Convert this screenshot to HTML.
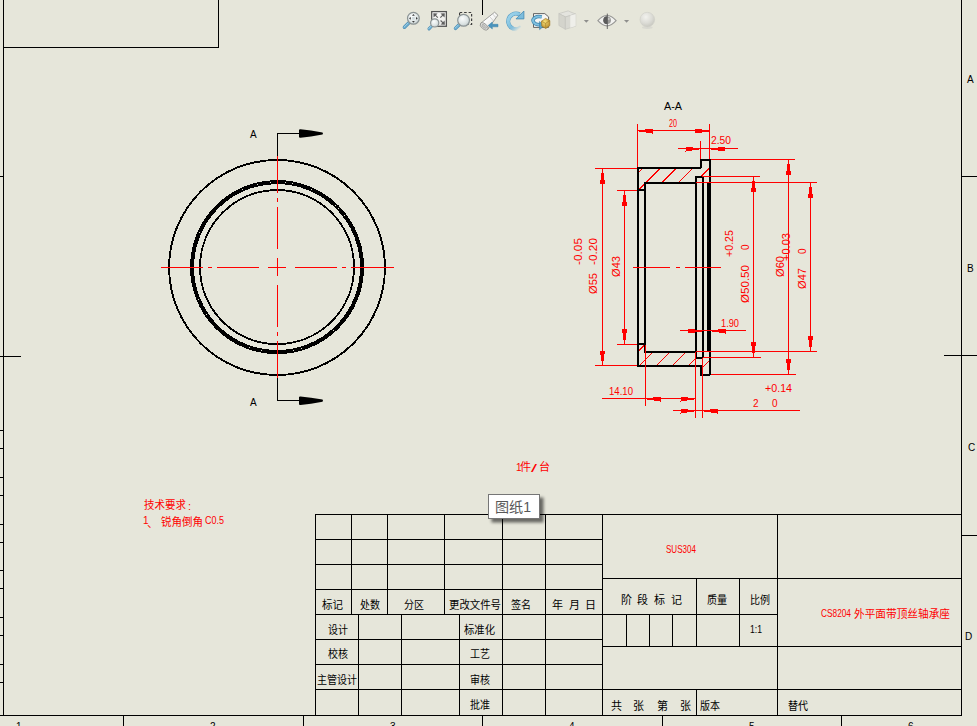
<!DOCTYPE html>
<html><head><meta charset="utf-8"><title>drawing</title>
<style>
html,body{margin:0;padding:0;width:977px;height:726px;overflow:hidden;background:#e6e6da;font-family:"Liberation Sans",sans-serif;}
svg{position:absolute;left:0;top:0;display:block}
</style></head><body>
<svg width="977" height="726" viewBox="0 0 977 726">
<g shape-rendering="crispEdges">
<rect x="3" y="0" width="1" height="716" fill="#000"/>
<rect x="0" y="715" width="962" height="1" fill="#000"/>
<rect x="961" y="0" width="1" height="716" fill="#000"/>
<rect x="3" y="47" width="216" height="1" fill="#000"/>
<rect x="218" y="0" width="1" height="48" fill="#000"/>
<rect x="0" y="176" width="3" height="1" fill="#000"/>
<rect x="0" y="430" width="3" height="1" fill="#000"/>
<rect x="0" y="448" width="3" height="1" fill="#000"/>
<rect x="0" y="477" width="3" height="1" fill="#000"/>
<rect x="0" y="495" width="3" height="1" fill="#000"/>
<rect x="0" y="524" width="3" height="1" fill="#000"/>
<rect x="0" y="542" width="3" height="1" fill="#000"/>
<rect x="0" y="570" width="3" height="1" fill="#000"/>
<rect x="0" y="588" width="3" height="1" fill="#000"/>
<rect x="0" y="617" width="3" height="1" fill="#000"/>
<rect x="0" y="635" width="3" height="1" fill="#000"/>
<rect x="0" y="664" width="3" height="1" fill="#000"/>
<rect x="0" y="682" width="3" height="1" fill="#000"/>
<rect x="0" y="356" width="21" height="1" fill="#000"/>
<rect x="123" y="716" width="1" height="10" fill="#000"/>
<rect x="303" y="716" width="1" height="10" fill="#000"/>
<rect x="482" y="716" width="1" height="10" fill="#000"/>
<rect x="662" y="716" width="1" height="10" fill="#000"/>
<rect x="841" y="716" width="1" height="10" fill="#000"/>
<rect x="482" y="0" width="1" height="15" fill="#000"/>
<rect x="962" y="176" width="15" height="1" fill="#000"/>
<rect x="944" y="355" width="33" height="1" fill="#000"/>
<rect x="962" y="535" width="15" height="1" fill="#000"/>
</g>
<g shape-rendering="crispEdges">
<rect x="315" y="514" width="647" height="1" fill="#000"/>
<rect x="315" y="514" width="1" height="202" fill="#000"/>
<rect x="315" y="539" width="288" height="1" fill="#000"/>
<rect x="315" y="564" width="288" height="1" fill="#000"/>
<rect x="315" y="589" width="288" height="1" fill="#000"/>
<rect x="315" y="614" width="288" height="1" fill="#000"/>
<rect x="315" y="639" width="288" height="1" fill="#000"/>
<rect x="315" y="664" width="288" height="1" fill="#000"/>
<rect x="315" y="689" width="288" height="1" fill="#000"/>
<rect x="351" y="514" width="1" height="100" fill="#000"/>
<rect x="387" y="514" width="1" height="100" fill="#000"/>
<rect x="444" y="514" width="1" height="100" fill="#000"/>
<rect x="358" y="614" width="1" height="102" fill="#000"/>
<rect x="401" y="614" width="1" height="102" fill="#000"/>
<rect x="459" y="614" width="1" height="102" fill="#000"/>
<rect x="502" y="514" width="1" height="202" fill="#000"/>
<rect x="545" y="514" width="1" height="202" fill="#000"/>
<rect x="602" y="514" width="1" height="202" fill="#000"/>
<rect x="602" y="578" width="360" height="1" fill="#000"/>
<rect x="602" y="614" width="176" height="1" fill="#000"/>
<rect x="602" y="646" width="360" height="1" fill="#000"/>
<rect x="602" y="689" width="360" height="1" fill="#000"/>
<rect x="777" y="514" width="1" height="202" fill="#000"/>
<rect x="696" y="578" width="1" height="69" fill="#000"/>
<rect x="739" y="578" width="1" height="69" fill="#000"/>
<rect x="626" y="614" width="1" height="33" fill="#000"/>
<rect x="649" y="614" width="1" height="33" fill="#000"/>
<rect x="672" y="614" width="1" height="33" fill="#000"/>
<rect x="696" y="689" width="1" height="27" fill="#000"/>
</g>
<g fill="none" stroke="#000" shape-rendering="crispEdges">
<ellipse cx="277.05" cy="267.5" rx="107.9" ry="107.5" stroke-width="1.9"/>
<ellipse cx="277.05" cy="267.1" rx="86.0" ry="86.05" stroke-width="2"/>
<ellipse cx="277.05" cy="267.1" rx="84.0" ry="84.0" stroke-width="2"/>
<ellipse cx="277.05" cy="267.1" rx="77.0" ry="77.0" stroke-width="1.9"/>
</g>
<g shape-rendering="crispEdges">
<rect x="161" y="267" width="42" height="1" fill="#ff0000"/>
<rect x="208" y="267" width="4" height="1" fill="#ff0000"/>
<rect x="217" y="267" width="42" height="1" fill="#ff0000"/>
<rect x="268" y="267" width="18" height="1" fill="#ff0000"/>
<rect x="295" y="267" width="42" height="1" fill="#ff0000"/>
<rect x="342" y="267" width="4" height="1" fill="#ff0000"/>
<rect x="351" y="267" width="43" height="1" fill="#ff0000"/>
<rect x="277" y="156" width="1" height="37" fill="#ff0000"/>
<rect x="277" y="198" width="1" height="4" fill="#ff0000"/>
<rect x="277" y="207" width="1" height="42" fill="#ff0000"/>
<rect x="277" y="258" width="1" height="18" fill="#ff0000"/>
<rect x="277" y="285" width="1" height="42" fill="#ff0000"/>
<rect x="277" y="332" width="1" height="4" fill="#ff0000"/>
<rect x="277" y="341" width="1" height="37" fill="#ff0000"/>
<rect x="277" y="133" width="1" height="23" fill="#000"/>
<rect x="277" y="133" width="23" height="1" fill="#000"/>
<rect x="277" y="378" width="1" height="23" fill="#000"/>
<rect x="277" y="400" width="23" height="1" fill="#000"/>
</g>
<path d="M299,129.9 Q299,129.1 300.5,129.2 L311,130.5 L322.5,132.4 Q323.5,133.5 322.5,134.6 L311,136.5 L300.5,137.8 Q299,137.9 299,137.1 Z" fill="#000"/>
<path d="M299,397.09999999999997 Q299,396.3 300.5,396.4 L311,397.7 L322.5,399.59999999999997 Q323.5,400.7 322.5,401.8 L311,403.7 L300.5,405.0 Q299,405.09999999999997 299,404.3 Z" fill="#000"/>
<g shape-rendering="crispEdges">
<clipPath id="ht"><polygon points="638,190 638,168 701,168 701,160 710,160 710,183 703,183 703,177 696,177 696,183 645,183 645,190"/></clipPath>
<clipPath id="hb"><polygon points="638,344 645,344 645,352 696,352 696,358 703,358 703,352 710,352 710,375 701,375 701,366 638,366"/></clipPath>
</g>
<g stroke="#ff0000" stroke-width="1" clip-path="url(#ht)" shape-rendering="crispEdges">
<line x1="610.9" y1="200" x2="660.9" y2="150"/>
<line x1="628.3" y1="200" x2="678.3" y2="150"/>
<line x1="644.4" y1="200" x2="694.4" y2="150"/>
<line x1="661.2" y1="200" x2="711.2" y2="150"/>
<line x1="677.3" y1="200" x2="727.3" y2="150"/>
</g>
<g stroke="#ff0000" stroke-width="1" clip-path="url(#hb)" shape-rendering="crispEdges">
<line x1="609.7" y1="380" x2="649.7" y2="340"/>
<line x1="625.1" y1="380" x2="665.1" y2="340"/>
<line x1="641.9" y1="380" x2="681.9" y2="340"/>
<line x1="657.8" y1="380" x2="697.8" y2="340"/>
<line x1="674" y1="380" x2="714" y2="340"/>
<line x1="690.2" y1="380" x2="730.2" y2="340"/>
</g>
<g shape-rendering="crispEdges">
<rect x="637" y="167" width="2" height="199" fill="#000"/>
<rect x="644" y="182" width="2" height="170" fill="#000"/>
<rect x="695" y="176" width="2" height="182" fill="#000"/>
<rect x="702" y="176" width="2" height="182" fill="#000"/>
<rect x="709" y="159" width="2" height="216" fill="#000"/>
<rect x="707" y="183" width="2" height="169" fill="#000"/>
<rect x="700" y="159" width="2" height="9" fill="#000"/>
<rect x="700" y="365" width="2" height="10" fill="#000"/>
<rect x="700" y="159" width="10" height="2" fill="#000"/>
<rect x="637" y="167" width="64" height="2" fill="#000"/>
<rect x="695" y="176" width="8" height="2" fill="#000"/>
<rect x="644" y="182" width="52" height="2" fill="#000"/>
<rect x="637" y="189" width="8" height="2" fill="#000"/>
<rect x="637" y="343" width="8" height="2" fill="#000"/>
<rect x="644" y="351" width="52" height="2" fill="#000"/>
<rect x="695" y="357" width="8" height="2" fill="#000"/>
<rect x="637" y="365" width="64" height="2" fill="#000"/>
<rect x="700" y="374" width="10" height="2" fill="#000"/>
<rect x="633" y="267" width="37" height="1" fill="#ff0000"/>
<rect x="676" y="267" width="4" height="1" fill="#ff0000"/>
<rect x="685" y="267" width="36" height="1" fill="#ff0000"/>
<rect x="637" y="124" width="1" height="43" fill="#ff0000"/>
<rect x="709" y="124" width="1" height="35" fill="#ff0000"/>
<rect x="637" y="130" width="73" height="1" fill="#ff0000"/>
<rect x="700" y="141" width="1" height="18" fill="#ff0000"/>
<rect x="678" y="148" width="60" height="1" fill="#ff0000"/>
<rect x="595" y="168" width="42" height="1" fill="#ff0000"/>
<rect x="595" y="365" width="42" height="1" fill="#ff0000"/>
<rect x="602" y="168" width="1" height="198" fill="#ff0000"/>
<rect x="617" y="190" width="20" height="1" fill="#ff0000"/>
<rect x="617" y="344" width="20" height="1" fill="#ff0000"/>
<rect x="624" y="190" width="1" height="155" fill="#ff0000"/>
<rect x="711" y="159" width="84" height="1" fill="#ff0000"/>
<rect x="711" y="374" width="85" height="1" fill="#ff0000"/>
<rect x="788" y="159" width="1" height="216" fill="#ff0000"/>
<rect x="702" y="176" width="58" height="1" fill="#ff0000"/>
<rect x="703" y="357" width="58" height="1" fill="#ff0000"/>
<rect x="753" y="176" width="1" height="182" fill="#ff0000"/>
<rect x="696" y="182" width="121" height="1" fill="#ff0000"/>
<rect x="696" y="351" width="121" height="1" fill="#ff0000"/>
<rect x="810" y="182" width="1" height="170" fill="#ff0000"/>
<rect x="645" y="345" width="1" height="61" fill="#ff0000"/>
<rect x="695" y="352" width="1" height="66" fill="#ff0000"/>
<rect x="702" y="358" width="1" height="60" fill="#ff0000"/>
<rect x="602" y="398" width="94" height="1" fill="#ff0000"/>
<rect x="673" y="410" width="127" height="1" fill="#ff0000"/>
<rect x="680" y="330" width="66" height="1" fill="#ff0000"/>
<polygon points="637.5,130.65 652.5,128.5 652.5,133.5 637.5,131.35" fill="#ff0000"/>
<polygon points="710,130.65 695,128.5 695,133.5 710,131.35" fill="#ff0000"/>
<polygon points="700.5,148.65 685.5,146.5 685.5,151.5 700.5,149.35" fill="#ff0000"/>
<polygon points="710,148.65 725,146.5 725,151.5 710,149.35" fill="#ff0000"/>
<polygon points="602.2,168.5 599.9,184.0 605.1,184.0 602.8,168.5" fill="#ff0000"/>
<polygon points="602.2,366 599.9,350.5 605.1,350.5 602.8,366" fill="#ff0000"/>
<polygon points="624.2,190.5 621.9,206.0 627.1,206.0 624.8,190.5" fill="#ff0000"/>
<polygon points="624.2,344.5 621.9,329.0 627.1,329.0 624.8,344.5" fill="#ff0000"/>
<polygon points="788.2,159.5 785.9,175.0 791.1,175.0 788.8,159.5" fill="#ff0000"/>
<polygon points="788.2,374.5 785.9,359.0 791.1,359.0 788.8,374.5" fill="#ff0000"/>
<polygon points="753.2,176.5 750.9,192.0 756.1,192.0 753.8,176.5" fill="#ff0000"/>
<polygon points="753.2,357.5 750.9,342.0 756.1,342.0 753.8,357.5" fill="#ff0000"/>
<polygon points="810.2,182.5 807.9,198.0 813.1,198.0 810.8,182.5" fill="#ff0000"/>
<polygon points="810.2,351.5 807.9,336.0 813.1,336.0 810.8,351.5" fill="#ff0000"/>
<polygon points="645.5,398.65 660.5,396.5 660.5,401.5 645.5,399.35" fill="#ff0000"/>
<polygon points="695.5,398.65 680.5,396.5 680.5,401.5 695.5,399.35" fill="#ff0000"/>
<polygon points="695.5,410.65 680.5,408.5 680.5,413.5 695.5,411.35" fill="#ff0000"/>
<polygon points="702.5,410.65 717.5,408.5 717.5,413.5 702.5,411.35" fill="#ff0000"/>
<polygon points="703,330.65 688,328.5 688,333.5 703,331.35" fill="#ff0000"/>
<polygon points="710.5,330.65 725.5,328.5 725.5,333.5 710.5,331.35" fill="#ff0000"/>
</g>
<g font-family="&quot;Liberation Sans&quot;, &quot;Noto Sans CJK SC&quot;, sans-serif" font-size="11" fill="#000">
<text x="664" y="110" textLength="18" lengthAdjust="spacingAndGlyphs">A-A</text>
<text x="250" y="138" font-size="10">A</text>
<text x="250" y="406" font-size="10">A</text>
<text x="967" y="83" font-size="10">A</text>
<text x="967" y="272" font-size="10">B</text>
<text x="968" y="451" font-size="10">C</text>
<text x="965" y="640" font-size="10">D</text>
<text x="16" y="730" font-size="10">1</text>
<text x="210" y="730" font-size="10">2</text>
<text x="390" y="730" font-size="10">3</text>
<text x="569" y="730" font-size="10">4</text>
<text x="749" y="730" font-size="10">5</text>
<text x="908" y="730" font-size="10">6</text>
<text x="750" y="633" textLength="12" lengthAdjust="spacingAndGlyphs">1:1</text>
<text x="322" y="609" textLength="21" lengthAdjust="spacingAndGlyphs">标记</text>
<text x="360" y="609" textLength="20" lengthAdjust="spacingAndGlyphs">处数</text>
<text x="404" y="609" textLength="20" lengthAdjust="spacingAndGlyphs">分区</text>
<text x="449" y="609" textLength="52" lengthAdjust="spacingAndGlyphs">更改文件号</text>
<text x="511" y="609" textLength="20" lengthAdjust="spacingAndGlyphs">签名</text>
<text x="552" y="609">年</text>
<text x="569" y="609">月</text>
<text x="585" y="609">日</text>
<text x="328" y="634" textLength="20" lengthAdjust="spacingAndGlyphs">设计</text>
<text x="464" y="634" textLength="31" lengthAdjust="spacingAndGlyphs">标准化</text>
<text x="328" y="658" textLength="20" lengthAdjust="spacingAndGlyphs">校核</text>
<text x="470" y="658" textLength="20" lengthAdjust="spacingAndGlyphs">工艺</text>
<text x="317" y="684" textLength="40" lengthAdjust="spacingAndGlyphs">主管设计</text>
<text x="470" y="684" textLength="20" lengthAdjust="spacingAndGlyphs">审核</text>
<text x="470" y="709" textLength="20" lengthAdjust="spacingAndGlyphs">批准</text>
<text x="621" y="604">阶</text>
<text x="637" y="604">段</text>
<text x="654" y="604">标</text>
<text x="671" y="604">记</text>
<text x="707" y="604" textLength="20" lengthAdjust="spacingAndGlyphs">质量</text>
<text x="750" y="604" textLength="20" lengthAdjust="spacingAndGlyphs">比例</text>
<text x="611" y="710">共</text>
<text x="633" y="710">张</text>
<text x="657" y="710">第</text>
<text x="680" y="710">张</text>
<text x="700" y="710" textLength="20" lengthAdjust="spacingAndGlyphs">版本</text>
<text x="788" y="710" textLength="20" lengthAdjust="spacingAndGlyphs">替代</text>
</g>
<g font-family="&quot;Liberation Sans&quot;, &quot;Noto Sans CJK SC&quot;, sans-serif" font-size="11" fill="#ff0000">
<text x="669" y="127" textLength="8" lengthAdjust="spacingAndGlyphs">20</text>
<text x="711" y="144" textLength="20" lengthAdjust="spacingAndGlyphs">2.50</text>
<text x="721" y="327" textLength="18" lengthAdjust="spacingAndGlyphs">1.90</text>
<text x="609" y="395" textLength="24" lengthAdjust="spacingAndGlyphs">14.10</text>
<text x="765" y="392" textLength="27" lengthAdjust="spacingAndGlyphs">+0.14</text>
<text x="753" y="407" font-size="10">2</text>
<text x="772" y="407" font-size="10">0</text>
<text transform="translate(588,294) rotate(-90)" x="0" y="9" textLength="21" lengthAdjust="spacingAndGlyphs">Ø55</text>
<text transform="translate(573,265) rotate(-90)" x="0" y="9" textLength="27" lengthAdjust="spacingAndGlyphs">-0.05</text>
<text transform="translate(588,265) rotate(-90)" x="0" y="9" textLength="27" lengthAdjust="spacingAndGlyphs">-0.20</text>
<text transform="translate(611,277) rotate(-90)" x="0" y="9" textLength="21" lengthAdjust="spacingAndGlyphs">Ø43</text>
<text transform="translate(740,303) rotate(-90)" x="0" y="9" textLength="38" lengthAdjust="spacingAndGlyphs">Ø50.50</text>
<text transform="translate(724,257) rotate(-90)" x="0" y="9" textLength="27" lengthAdjust="spacingAndGlyphs">+0.25</text>
<text transform="translate(740,249) rotate(-90)" x="-1" y="9" font-size="10">0</text>
<text transform="translate(775,277) rotate(-90)" x="0" y="9" textLength="21" lengthAdjust="spacingAndGlyphs">Ø60</text>
<text transform="translate(781,261) rotate(-90)" x="0" y="9" textLength="28" lengthAdjust="spacingAndGlyphs">+0.03</text>
<text transform="translate(797,253) rotate(-90)" x="-1" y="9" font-size="10">0</text>
<text transform="translate(797,289) rotate(-90)" x="0" y="9" textLength="21" lengthAdjust="spacingAndGlyphs">Ø47</text>
<text x="666" y="553" textLength="30" lengthAdjust="spacingAndGlyphs">SUS304</text>
<text x="821" y="617" textLength="30" lengthAdjust="spacingAndGlyphs">CS8204</text>
<text x="854" y="618" textLength="96" lengthAdjust="spacingAndGlyphs">外平面带顶丝轴承座</text>
<text x="144" y="509" textLength="42" lengthAdjust="spacingAndGlyphs">技术要求</text>
<text x="188" y="510">:</text>
<text x="143" y="524" font-size="10">1</text>
<text x="147" y="527">、</text>
<text x="161" y="526" textLength="42" lengthAdjust="spacingAndGlyphs">锐角倒角</text>
<text x="205" y="524" textLength="19" lengthAdjust="spacingAndGlyphs">C0.5</text>
<text x="516" y="471" font-size="10">1</text>
<text x="520" y="471">件</text>
<text x="531" y="472" textLength="6" lengthAdjust="spacingAndGlyphs">/</text>
<text x="539" y="471">台</text>
</g>
<defs>
<radialGradient id="lens" cx="40%" cy="35%" r="70%"><stop offset="0" stop-color="#fbfdfd"/><stop offset="0.6" stop-color="#dfe6e6"/><stop offset="1" stop-color="#c3cdce"/></radialGradient>
<linearGradient id="hnd" x1="0" y1="0" x2="1" y2="1"><stop offset="0" stop-color="#8cc6e2"/><stop offset="1" stop-color="#3f88b2"/></linearGradient>
<linearGradient id="blu" x1="0" y1="0" x2="0" y2="1"><stop offset="0" stop-color="#9ed2ea"/><stop offset="1" stop-color="#4a92bb"/></linearGradient>
<linearGradient id="arcg" gradientUnits="userSpaceOnUse" x1="506" y1="14" x2="520" y2="30"><stop offset="0" stop-color="#a4d8ee"/><stop offset="0.6" stop-color="#7fc0de"/><stop offset="0.95" stop-color="#b4dcec" stop-opacity="0"/></linearGradient>
<linearGradient id="arcd" gradientUnits="userSpaceOnUse" x1="506" y1="14" x2="520" y2="30"><stop offset="0" stop-color="#5a9fc6"/><stop offset="0.6" stop-color="#4f95bd"/><stop offset="0.95" stop-color="#8fbfd8" stop-opacity="0"/></linearGradient>
<linearGradient id="spy" x1="0" y1="0" x2="1" y2="1"><stop offset="0" stop-color="#c4c4c2"/><stop offset="0.35" stop-color="#ffffff"/><stop offset="0.6" stop-color="#f0f0ee"/><stop offset="1" stop-color="#a2a2a0"/></linearGradient>
<radialGradient id="sph" cx="40%" cy="32%" r="70%"><stop offset="0" stop-color="#f2f2ee"/><stop offset="0.6" stop-color="#dcdcd6"/><stop offset="1" stop-color="#c8c8c0"/></radialGradient>
<radialGradient id="gold" cx="40%" cy="35%" r="70%"><stop offset="0" stop-color="#f8e27a"/><stop offset="1" stop-color="#b88a2c"/></radialGradient>
<linearGradient id="frm" x1="0" y1="0" x2="1" y2="1"><stop offset="0" stop-color="#ffffff"/><stop offset="1" stop-color="#e6e6e2"/></linearGradient>
<filter id="tsh" x="-20%" y="-20%" width="150%" height="170%"><feGaussianBlur stdDeviation="1.6"/></filter>
</defs>
<line x1="408.7" y1="23.0" x2="404.4" y2="27.3" stroke="#4a8ab2" stroke-width="3.4" stroke-linecap="round"/>
<line x1="408.7" y1="23.0" x2="404.4" y2="27.3" stroke="#6fb0d2" stroke-width="2.3" stroke-linecap="round"/>
<line x1="408.3" y1="22.7" x2="404.1" y2="26.9" stroke="#a6d6ea" stroke-width="0.8" stroke-linecap="round"/>
<circle cx="413.4" cy="18.3" r="5.9" fill="url(#lens)" stroke="#8b9394" stroke-width="1.2"/>
<rect x="412.1" y="17" width="2.6" height="2.6" fill="#cfdadd"/>
<g fill="#3a3a3a">
<polygon points="413.4,13.9 412,15.7 414.8,15.7"/>
<polygon points="413.4,22.7 412,20.9 414.8,20.9"/>
<polygon points="409,18.3 410.8,16.9 410.8,19.7"/>
<polygon points="417.8,18.3 416,16.9 416,19.7"/>
</g>
<rect x="431.7" y="11.6" width="14.7" height="14.7" fill="url(#frm)" stroke="#545454" stroke-width="1.25"/>
<g stroke="#5e5e5e" stroke-width="1.1" fill="#5e5e5e">
<line x1="434.8" y1="14.7" x2="437.8" y2="17.7"/><polygon points="433.3,13.2 437.6,13.5 433.6,17.5" stroke="none"/>
<line x1="443.3" y1="14.7" x2="440.3" y2="17.7"/><polygon points="444.8,13.2 440.5,13.5 444.5,17.5" stroke="none"/>
<line x1="440.6" y1="20.5" x2="443.3" y2="23.2"/><polygon points="444.9,24.8 440.6,24.5 444.6,20.5" stroke="none"/>
</g>
<line x1="431.3" y1="26.5" x2="429.0" y2="28.9" stroke="#4a8ab2" stroke-width="3.0" stroke-linecap="round"/>
<line x1="431.3" y1="26.5" x2="429.0" y2="28.9" stroke="#6fb0d2" stroke-width="1.9" stroke-linecap="round"/>
<line x1="431.0" y1="26.1" x2="428.7" y2="28.6" stroke="#a6d6ea" stroke-width="0.8" stroke-linecap="round"/>
<circle cx="434.7" cy="22.9" r="4.1" fill="url(#lens)" stroke="#8b9394" stroke-width="1.2"/>
<rect x="459.6" y="12.5" width="12" height="12" fill="none" stroke="#3e3e3e" stroke-width="1.2" stroke-dasharray="2.6,1.9"/>
<line x1="458.9" y1="25.0" x2="455.5" y2="28.4" stroke="#4a8ab2" stroke-width="3.4" stroke-linecap="round"/>
<line x1="458.9" y1="25.0" x2="455.5" y2="28.4" stroke="#6fb0d2" stroke-width="2.3" stroke-linecap="round"/>
<line x1="458.5" y1="24.7" x2="455.2" y2="28.0" stroke="#a6d6ea" stroke-width="0.8" stroke-linecap="round"/>
<circle cx="463.6" cy="20.3" r="5.9" fill="url(#lens)" stroke="#8b9394" stroke-width="1.2"/>
<g stroke="#8a8a88" stroke-width="0.8" stroke-linejoin="round">
<polygon points="480.6,23.4 494.6,12.2 497.9,15.2 487.8,29.3" fill="url(#spy)"/>
<ellipse cx="484.2" cy="26.4" rx="4.6" ry="2.6" transform="rotate(38 484.2 26.4)" fill="#e4e4e2"/>
<ellipse cx="484.2" cy="26.4" rx="2.8" ry="1.3" transform="rotate(38 484.2 26.4)" fill="#c4c4c2" stroke="#a2a2a0" stroke-width="0.6"/>
<line x1="489.6" y1="16.4" x2="493.6" y2="21.1" stroke="#c2c2c0" stroke-width="0.7"/>
<line x1="492.6" y1="14" x2="496" y2="17.8" stroke="#c2c2c0" stroke-width="0.7"/>
</g>
<polygon points="488.2,25.5 492.3,22.1 492.3,24.3 498,24.3 498,26.8 492.3,26.8 492.3,29 " fill="#4a93bd" stroke="#3b82ab" stroke-width="0.5"/>
<path d="M521.4,27.0 A7.8,7.8 0 1 1 519.6,14.4" fill="none" stroke="url(#arcd)" stroke-width="4.2"/>
<path d="M521.4,27.0 A7.8,7.8 0 1 1 519.6,14.4" fill="none" stroke="url(#arcg)" stroke-width="3.1"/>
<polygon points="523.9,11 523.9,18.9 516,18.9" fill="#7dbddd" stroke="#4489b2" stroke-width="0.8" stroke-linejoin="round"/>
<path d="M533.5,13.6 H544.8 L548.6,16.9 V27.4 H533.5 Z" fill="#f6f6f4" stroke="#555" stroke-width="0.9"/>
<path d="M541.8,16.9 C536,15.6 531.5,18.6 533.6,22.2 C535,24.6 538.6,24.9 541.4,24.6" fill="none" stroke="#3d84ad" stroke-width="3.4"/>
<path d="M541.8,16.9 C536,15.6 531.5,18.6 533.6,22.2 C535,24.6 538.6,24.9 541.4,24.6" fill="none" stroke="#7fc0e0" stroke-width="2"/>
<polygon points="539.4,21.6 544.6,25.2 539.6,29.6" fill="#5ba3c9" stroke="#3b7fa8" stroke-width="0.6"/>
<path d="M541.4,21.2 L545.6,18.4 L549.8,20.6 L549.8,25.6 L545.8,28.4 L541.8,26.2 Z" fill="url(#gold)" stroke="#a07a26" stroke-width="0.7"/>
<path d="M541.4,21.2 L545.6,23.4 L549.8,20.6 M545.6,23.4 L545.8,28.4" fill="none" stroke="#a07a26" stroke-width="0.6"/>
<g stroke="#c4c4be" stroke-width="0.7" stroke-linejoin="round">
<polygon points="558.9,13.6 568.1,10.9 575.7,14.1 565.4,16.9" fill="#e4e4de"/>
<polygon points="558.9,13.6 565.4,16.9 565.4,29.3 558.9,25.5" fill="#d4d4cc"/>
<polygon points="565.4,16.9 575.7,14.1 575.7,26.1 565.4,29.3" fill="#d9d9d2"/>
<polygon points="570.3,15.6 575.7,14.1 575.7,26.1 570.3,27.8" fill="#efefea" stroke="none"/>
</g>
<polygon points="583.8,19.9 588.9,19.9 586.35,22.8" fill="#8e8e8c"/>
<path d="M597.9,20.6 Q607,10.4 616.1,20.6 Q607,31 597.9,20.6 Z" fill="#f2f2f0" stroke="#989896" stroke-width="1.15"/>
<circle cx="607.2" cy="20.2" r="3.8" fill="#9c9c9a"/>
<path d="M607.2,16.3 A3.9,3.9 0 0 0 607.2,24.1 Z" fill="#5c5c5c"/>
<circle cx="608.6" cy="18.9" r="1.1" fill="#c8c8c6"/>
<line x1="607.3" y1="13.6" x2="607.3" y2="29" stroke="#5a5a5a" stroke-width="0.9"/>
<polygon points="624,19.9 629.1,19.9 626.55,22.8" fill="#8e8e8c"/>
<ellipse cx="647.3" cy="27.6" rx="5.4" ry="1.3" fill="#d6d6ce" opacity="0.8"/>
<circle cx="647.3" cy="19.6" r="7.3" fill="url(#sph)" stroke="#cfcfc8" stroke-width="0.6"/>
<rect x="491.5" y="497.5" width="52" height="25" fill="#000" opacity="0.55" filter="url(#tsh)"/>
<rect x="488.5" y="494.5" width="51" height="24" fill="#fff" stroke="#767676" stroke-width="1"/>
<text x="495" y="512" font-family="&quot;Liberation Sans&quot;, &quot;Noto Sans CJK SC&quot;, sans-serif" font-size="14" fill="#575757" textLength="36" lengthAdjust="spacingAndGlyphs">图纸1</text>
</svg>
</body></html>
